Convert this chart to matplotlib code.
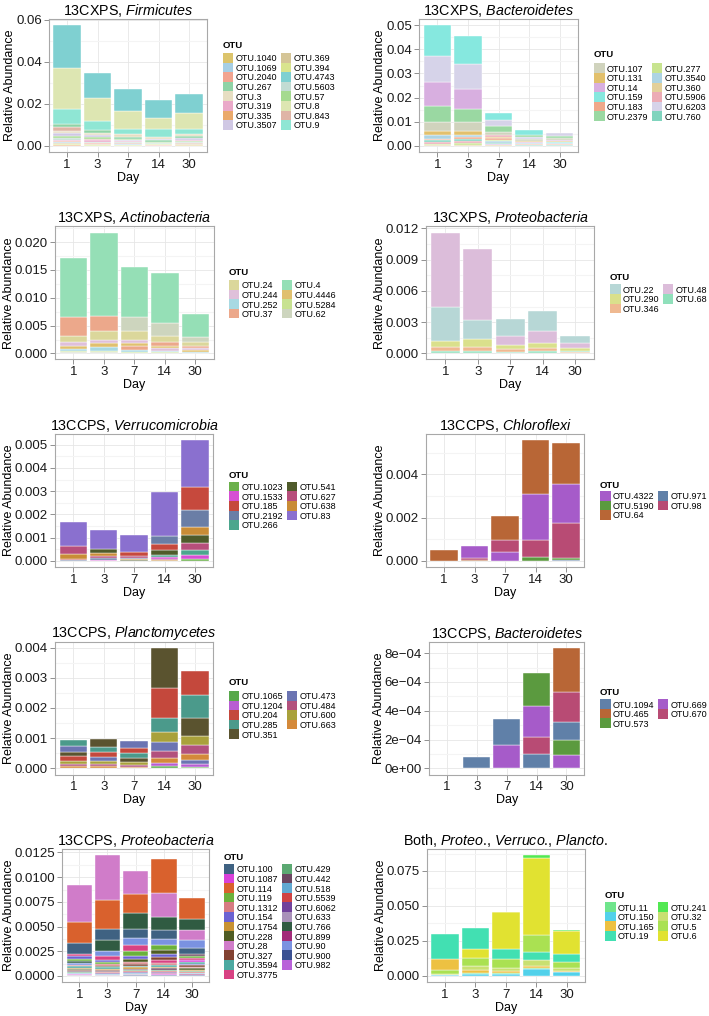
import numpy as np
import matplotlib.pyplot as plt
from matplotlib.patches import Rectangle

plt.rcParams['font.family'] = ['Liberation Sans', 'DejaVu Sans']
plt.rcParams['mathtext.fontset'] = 'custom'
plt.rcParams['mathtext.rm'] = 'Liberation Sans'
plt.rcParams['mathtext.it'] = 'Liberation Sans:italic'

days = ['1', '3', '7', '14', '30']

# ---- 13CXPS, Firmicutes
firm_otus = ['OTU.1040', 'OTU.1069', 'OTU.2040', 'OTU.267', 'OTU.3', 'OTU.319', 'OTU.335', 'OTU.3507',
             'OTU.369', 'OTU.394', 'OTU.4743', 'OTU.5603', 'OTU.57', 'OTU.8', 'OTU.843', 'OTU.9']
firm_colors = ['#dcc46c', '#a6cfe5', '#f2a490', '#8fd3a6', '#e7dec2', '#eaa9c9', '#eaa96b', '#d0c8e4',
               '#d5c597', '#d9e48e', '#7fd0d1', '#c2dcd3', '#a5da90', '#dde6b2', '#dfb5a6', '#8fe6d4']
firm_vals = {
    'OTU.4743': [0.0202, 0.0117, 0.0106, 0.0085, 0.0089],
    'OTU.8': [0.0197, 0.0111, 0.0083, 0.0053, 0.0076],
    'OTU.9': [0.0070, 0.0043, 0.0027, 0.0037, 0.0027],
    'OTU.843': [0.0016, 0.0008, 0.0004, 0.0003, 0.0004],
    'OTU.3507': [0.0012, 0.0009, 0.0006, 0.0007, 0.0008],
    'OTU.3': [0.0012, 0.0010, 0.0012, 0.0008, 0.0010],
    'OTU.267': [0.0018, 0.0012, 0.0008, 0.0006, 0.0008],
    'OTU.57': [0.0010, 0.0008, 0.0006, 0.0004, 0.0006],
    'OTU.319': [0.0008, 0.0007, 0.0005, 0.0004, 0.0006],
    'OTU.5603': [0.0008, 0.0006, 0.0004, 0.0003, 0.0004],
    'OTU.394': [0.0004, 0.0003, 0.0002, 0.0002, 0.0002],
    'OTU.369': [0.0005, 0.0003, 0.0002, 0.0001, 0.0002],
    'OTU.1069': [0.0005, 0.0003, 0.0002, 0.0001, 0.0002],
    'OTU.2040': [0.0005, 0.0003, 0.0002, 0.0001, 0.0001],
    'OTU.335': [0.0002, 0.0001, 0.0001, 0.0001, 0.0001],
    'OTU.1040': [0.0001, 0.0001, 0.0001, 0.0001, 0.0001],
}
firm_ticks = [0.0, 0.02, 0.04, 0.06]
firm_ticklabels = ['0.00', '0.02', '0.04', '0.06']

# ---- 13CXPS, Bacteroidetes
bactx_otus = ['OTU.107', 'OTU.131', 'OTU.14', 'OTU.159', 'OTU.183', 'OTU.2379',
              'OTU.277', 'OTU.3540', 'OTU.360', 'OTU.5906', 'OTU.6203', 'OTU.760']
bactx_colors = ['#d0d3bd', '#e2c06c', '#d8afe0', '#86e8df', '#f0a88a', '#9ad8a2',
                '#c8e48f', '#add4e3', '#e3d09a', '#ecabb5', '#d6d3e9', '#80d4be']
bactx_vals = {
    'OTU.159': [0.0130, 0.0115, 0.0031, 0.0023, 0.0004],
    'OTU.6203': [0.0105, 0.0101, 0.0026, 0.0008, 0.0012],
    'OTU.14': [0.0100, 0.0084, 0.0005, 0.0004, 0.0006],
    'OTU.2379': [0.0068, 0.0053, 0.0024, 0.0010, 0.0008],
    'OTU.107': [0.0035, 0.0038, 0.0010, 0.0006, 0.0006],
    'OTU.3540': [0.0015, 0.0012, 0.0006, 0.0003, 0.0003],
    'OTU.131': [0.0017, 0.0015, 0.0008, 0.0005, 0.0004],
    'OTU.760': [0.0007, 0.0008, 0.0005, 0.0002, 0.0002],
    'OTU.277': [0.0006, 0.0007, 0.0006, 0.0002, 0.0002],
    'OTU.183': [0.0007, 0.0008, 0.0006, 0.0002, 0.0002],
    'OTU.5906': [0.0006, 0.0007, 0.0008, 0.0002, 0.0002],
    'OTU.360': [0.0004, 0.0005, 0.0003, 0.0001, 0.0001],
}
bactx_ticks = [0.0, 0.01, 0.02, 0.03, 0.04, 0.05]
bactx_ticklabels = ['0.00', '0.01', '0.02', '0.03', '0.04', '0.05']

# ---- 13CXPS, Actinobacteria
actino_otus = ['OTU.24', 'OTU.244', 'OTU.252', 'OTU.37', 'OTU.4', 'OTU.4446', 'OTU.5284', 'OTU.62']
actino_colors = ['#dbd79b', '#dfc0da', '#a8d9e2', '#eca88b', '#95dfb6', '#e0c06f', '#c8e291', '#cdd5be']
actino_vals = {
    'OTU.4': [0.0106, 0.0149, 0.0091, 0.0090, 0.0040],
    'OTU.37': [0.0035, 0.0028, 0.0006, 0.0006, 0.0004],
    'OTU.62': [0.0002, 0.0002, 0.0024, 0.0023, 0.0010],
    'OTU.24': [0.0011, 0.0015, 0.0016, 0.0012, 0.0007],
    'OTU.4446': [0.0006, 0.0007, 0.0006, 0.0005, 0.0003],
    'OTU.244': [0.0006, 0.0007, 0.0006, 0.0004, 0.0003],
    'OTU.252': [0.0004, 0.0006, 0.0004, 0.0003, 0.0002],
    'OTU.5284': [0.0002, 0.0003, 0.0003, 0.0002, 0.0001],
}
actino_ticks = [0.0, 0.005, 0.010, 0.015, 0.020]
actino_ticklabels = ['0.000', '0.005', '0.010', '0.015', '0.020']

# ---- 13CXPS, Proteobacteria
proteox_otus = ['OTU.22', 'OTU.290', 'OTU.346', 'OTU.48', 'OTU.68']
proteox_colors = ['#b7d7d6', '#dae08c', '#efb991', '#dcbdda', '#90e0bb']
proteox_vals = {
    'OTU.48': [0.0071, 0.0068, 0.0009, 0.0012, 0.0005],
    'OTU.22': [0.0033, 0.0018, 0.0016, 0.0019, 0.0007],
    'OTU.290': [0.0006, 0.0008, 0.0004, 0.0005, 0.0003],
    'OTU.346': [0.0004, 0.0004, 0.0003, 0.0003, 0.0001],
    'OTU.68': [0.0002, 0.0002, 0.0001, 0.0002, 0.0001],
}
proteox_ticks = [0.0, 0.003, 0.006, 0.009, 0.012]
proteox_ticklabels = ['0.000', '0.003', '0.006', '0.009', '0.012']

# ---- 13CCPS, Verrucomicrobia
verr_otus = ['OTU.1023', 'OTU.1533', 'OTU.185', 'OTU.2192', 'OTU.266',
             'OTU.541', 'OTU.627', 'OTU.638', 'OTU.83']
verr_colors = ['#6bb04b', '#d64fd3', '#c6493d', '#6a7ea6', '#4ca68d',
               '#4f5b2b', '#b74e7b', '#c98c36', '#8a70cf']
verr_vals = {
    'OTU.83': [0.00103, 0.00085, 0.00074, 0.00189, 0.00204],
    'OTU.627': [0.00034, 0.00009, 0.00008, 0.00004, 0.00032],
    'OTU.638': [0.00022, 0.00010, 0.00005, 0.00003, 0.00037],
    'OTU.185': [0.00005, 0.00004, 0.00017, 0.00029, 0.00097],
    'OTU.2192': [0.00003, 0.00008, 0.00006, 0.00033, 0.00072],
    'OTU.541': [0.0, 0.00017, 0.00003, 0.00020, 0.00033],
    'OTU.266': [0.0, 0.0, 0.0, 0.00010, 0.00020],
    'OTU.1533': [0.0, 0.00002, 0.0, 0.00008, 0.00015],
    'OTU.1023': [0.0, 0.0, 0.0, 0.0, 0.00010],
}
verr_ticks = [0.0, 0.001, 0.002, 0.003, 0.004, 0.005]
verr_ticklabels = ['0.000', '0.001', '0.002', '0.003', '0.004', '0.005']

# ---- 13CCPS, Chloroflexi
chlor_otus = ['OTU.4322', 'OTU.5190', 'OTU.64', 'OTU.971', 'OTU.98']
chlor_colors = ['#a65bc9', '#5b9a3f', '#b86636', '#6080a8', '#b84b74']
chlor_vals = {
    'OTU.64': [0.00049, 0.00004, 0.00111, 0.00248, 0.00190],
    'OTU.4322': [0.0, 0.00055, 0.00043, 0.00212, 0.00180],
    'OTU.98': [0.0, 0.00010, 0.00052, 0.00078, 0.00160],
    'OTU.5190': [0.0, 0.0, 0.0, 0.00020, 0.00010],
    'OTU.971': [0.0, 0.0, 0.0, 0.0, 0.00005],
}
chlor_ticks = [0.0, 0.002, 0.004]
chlor_ticklabels = ['0.000', '0.002', '0.004']

# ---- 13CCPS, Planctomycetes
planc_otus = ['OTU.1065', 'OTU.1204', 'OTU.204', 'OTU.285', 'OTU.351',
              'OTU.473', 'OTU.484', 'OTU.600', 'OTU.663']
planc_colors = ['#58a84b', '#b85dd2', '#c4483c', '#4b9a8b', '#5a532f',
                '#6b74b2', '#b2517d', '#a9a13b', '#d4893a']
planc_vals = {
    'OTU.351': [0.00016, 0.00025, 0.00012, 0.00133, 0.00057],
    'OTU.204': [0.00014, 0.00015, 0.00018, 0.00101, 0.00081],
    'OTU.285': [0.00020, 0.00018, 0.00015, 0.00045, 0.00076],
    'OTU.600': [0.00010, 0.00010, 0.00010, 0.00035, 0.00031],
    'OTU.473': [0.00018, 0.00013, 0.00022, 0.00028, 0.00014],
    'OTU.484': [0.00008, 0.00008, 0.00007, 0.00022, 0.00029],
    'OTU.663': [0.00005, 0.00005, 0.00004, 0.00018, 0.00020],
    'OTU.1204': [0.0, 0.00003, 0.0, 0.00010, 0.00010],
    'OTU.1065': [0.00003, 0.0, 0.00002, 0.00008, 0.00005],
}
planc_ticks = [0.0, 0.001, 0.002, 0.003, 0.004]
planc_ticklabels = ['0.000', '0.001', '0.002', '0.003', '0.004']

# ---- 13CCPS, Bacteroidetes
bactc_otus = ['OTU.1094', 'OTU.465', 'OTU.573', 'OTU.669', 'OTU.670']
bactc_colors = ['#6080a8', '#b86636', '#5b9a3f', '#a65bc9', '#b84b74']
bactc_vals = {
    'OTU.1094': [0.0, 0.000079, 0.00018, 0.00010, 0.00012],
    'OTU.465': [0.0, 0.0, 0.0, 0.0, 0.000309],
    'OTU.573': [0.0, 0.0, 0.0, 0.000232, 0.00011],
    'OTU.669': [0.0, 0.0, 0.00016, 0.00021, 0.00009],
    'OTU.670': [0.0, 0.0, 0.0, 0.00012, 0.00021],
}
bactc_ticks = [0.0, 0.0002, 0.0004, 0.0006, 0.0008]
bactc_ticklabels = ['0e+00', '2e\u221204', '4e\u221204', '6e\u221204', '8e\u221204']

# ---- 13CCPS, Proteobacteria
proteoc_otus = ['OTU.100', 'OTU.1087', 'OTU.114', 'OTU.119', 'OTU.1312', 'OTU.154', 'OTU.1754',
                'OTU.228', 'OTU.28', 'OTU.327', 'OTU.3594', 'OTU.3775',
                'OTU.429', 'OTU.442', 'OTU.518', 'OTU.5539', 'OTU.6062', 'OTU.633',
                'OTU.766', 'OTU.899', 'OTU.90', 'OTU.900', 'OTU.982']
proteoc_colors = ['#3f6282', '#d940d9', '#d9612d', '#6bb13b', '#d77b82', '#6b62d2', '#c89232',
                  '#4f5c23', '#d07cc9', '#824232', '#4ca9a1', '#d84283',
                  '#5ba972', '#6b4661', '#60a9d2', '#d14343', '#71419b', '#a991b9',
                  '#305b42', '#a22b79', '#7a92e1', '#3b5192', '#b962d9']
proteoc_vals = {
    'OTU.28': [0.0038, 0.0046, 0.0023, 0.0025, 0.00095],
    'OTU.114': [0.0021, 0.0029, 0.0020, 0.00344, 0.00217],
    'OTU.100': [0.0011, 0.00112, 0.00085, 0.0009, 0.0006],
    'OTU.766': [0.0002, 0.00108, 0.0016, 0.0013, 0.0011],
    'OTU.90': [0.00018, 0.0005, 0.0008, 0.0006, 0.0009],
    'OTU.3775': [0.00028, 0.00045, 0.0006, 0.00025, 0.0002],
    'OTU.154': [0.00024, 0.00022, 0.00028, 0.00035, 0.00016],
    'OTU.119': [0.00022, 0.0002, 0.0005, 0.0005, 0.0002],
    'OTU.1312': [0.00016, 0.00016, 0.00022, 0.0002, 0.00015],
    'OTU.3594': [0.00014, 0.00013, 0.00018, 0.00018, 0.00017],
    'OTU.1754': [0.00013, 0.00012, 0.00015, 0.00016, 0.00012],
    'OTU.228': [0.00012, 0.00014, 0.00025, 0.0004, 0.00013],
    'OTU.327': [0.0001, 0.0001, 0.0002, 0.0003, 0.00015],
    'OTU.442': [0.00009, 0.00009, 0.00013, 0.00014, 0.0002],
    'OTU.429': [0.00007, 0.00008, 0.00011, 0.00012, 0.0001],
    'OTU.5539': [0.00006, 0.00007, 0.00009, 0.0001, 0.00009],
    'OTU.6062': [0.00005, 0.00006, 0.00008, 0.00009, 0.00008],
    'OTU.518': [0.00005, 0.00005, 0.00007, 0.00008, 0.00007],
    'OTU.899': [0.00004, 0.00005, 0.00006, 0.00007, 0.00006],
    'OTU.1087': [0.00004, 0.00004, 0.00005, 0.00006, 0.00018],
    'OTU.633': [0.00003, 0.00003, 0.00005, 0.00005, 0.00005],
    'OTU.900': [0.00003, 0.00003, 0.00004, 0.00004, 0.00004],
    'OTU.982': [0.00002, 0.00002, 0.00003, 0.00003, 0.00003],
}
proteoc_ticks = [0.0, 0.0025, 0.005, 0.0075, 0.010, 0.0125]
proteoc_ticklabels = ['0.0000', '0.0025', '0.0050', '0.0075', '0.0100', '0.0125']

# ---- Both, Proteo./Verruco./Plancto.
both_otus = ['OTU.11', 'OTU.150', 'OTU.165', 'OTU.19', 'OTU.241', 'OTU.32', 'OTU.5', 'OTU.6']
both_colors = ['#6fe58c', '#52d1ea', '#edc142', '#42e0b2', '#52e852', '#c9e071', '#aae152', '#e1e231']
both_vals = {
    'OTU.6': [0.0, 0.0067, 0.026, 0.0555, 0.0165],
    'OTU.19': [0.0181, 0.0152, 0.0073, 0.0054, 0.0057],
    'OTU.5': [0.0029, 0.0055, 0.0062, 0.0122, 0.0038],
    'OTU.32': [0.0009, 0.0030, 0.0025, 0.0041, 0.0025],
    'OTU.165': [0.0076, 0.0017, 0.0014, 0.0018, 0.0005],
    'OTU.150': [0.0005, 0.0015, 0.0015, 0.0048, 0.0030],
    'OTU.11': [0.0, 0.0009, 0.0005, 0.0007, 0.0],
    'OTU.241': [0.0, 0.0, 0.0006, 0.0019, 0.0006],
}
both_ticks = [0.0, 0.025, 0.050, 0.075]
both_ticklabels = ['0.000', '0.025', '0.050', '0.075']

# ---------------------------------------------------------------------------
W, H = 709, 1016
fig = plt.figure(figsize=(W / 100, H / 100), dpi=100)
renderer = fig.canvas.get_renderer()

ROW_TOP = [19, 226.5, 434, 641.5, 849]
ROW_H = 133


def draw_legend(x, title_y, top, otus, colors):
    fig.text(x / W, 1 - title_y / H, 'OTU', fontsize=6.8, fontweight='bold',
             ha='left', va='center_baseline')
    nrow = (len(otus) + 1) // 2
    sw, rh = 10.5, 9.6
    colx = x
    for c0 in range(0, len(otus), nrow):
        widths = []
        for r, (o, c) in enumerate(zip(otus[c0:c0 + nrow], colors[c0:c0 + nrow])):
            yt = top + r * rh
            fig.add_artist(Rectangle((colx / W, 1 - (yt + rh) / H), sw / W, rh / H,
                                     transform=fig.transFigure, facecolor=c, edgecolor='none'))
            t = fig.text((colx + sw + 2.5) / W, 1 - (yt + rh / 2) / H, o, fontsize=6.5,
                         ha='left', va='center_baseline')
            widths.append(t.get_window_extent(renderer).width)
        colx += sw + 2.5 + max(widths) + 3


def draw_panel(x0, x1, row, title, otus, colors, vals, ticks, ticklabels, leg,
               pin_bottom=(), pin_top=()):
    y0 = ROW_TOP[row]
    y1 = y0 + ROW_H
    ax = fig.add_axes([x0 / W, 1 - y1 / H, (x1 - x0) / W, (y1 - y0) / H])
    colmap = dict(zip(otus, colors))
    totals = []
    for i in range(len(days)):
        order = sorted(vals, key=lambda o: vals[o][i])
        order = list(pin_bottom) + [o for o in order if o not in pin_bottom and o not in pin_top] + list(pin_top)
        base = 0.0
        for o in order:
            v = vals[o][i]
            if v > 0:
                ax.bar(i, v, width=0.9, bottom=base, color=colmap[o],
                       edgecolor='white', linewidth=0.3, zorder=3)
            base += v
        totals.append(base)
    top = max(totals)
    ax.set_ylim(-0.05 * top, 1.05 * top)
    ax.set_xlim(-0.6, len(days) - 0.4)
    ax.set_xticks(range(len(days)))
    ax.set_xticklabels(days)
    ax.set_yticks(ticks)
    ax.set_yticklabels(ticklabels)
    step = ticks[1] - ticks[0]
    minor = np.arange(ticks[0] + step / 2, 1.05 * top, step)
    ax.set_yticks(minor, minor=True)
    ax.grid(which='major', color='#e6e6e6', linewidth=0.6, zorder=0)
    ax.grid(which='minor', axis='y', color='#f4f4f4', linewidth=0.8, zorder=0)
    ax.set_axisbelow(True)
    ax.tick_params(which='major', direction='out', length=3.5, width=0.6, color='#7f7f7f',
                   labelsize=9.5, pad=1.5, labelcolor='#1a1a1a')
    ax.tick_params(which='minor', length=0)
    for s in ax.spines.values():
        s.set_color('#a8a8a8')
        s.set_linewidth(0.8)
    ax.set_title(title, fontsize=10.3, pad=0.8)
    ax.set_xlabel('Day', fontsize=9, labelpad=0.5)
    ax.set_ylabel('Relative Abundance', fontsize=9, labelpad=0)
    draw_legend(*leg, otus, colors)
    return ax


draw_panel(48.7, 207.3, 0, r'13CXPS, $\mathit{Firmicutes}$', firm_otus, firm_colors, firm_vals,
           firm_ticks, firm_ticklabels, (223, 45, 53))
draw_panel(419, 578, 0, r'13CXPS, $\mathit{Bacteroidetes}$', bactx_otus, bactx_colors, bactx_vals,
           bactx_ticks, bactx_ticklabels, (594, 53.3, 63.3))
draw_panel(55, 213.6, 1, r'13CXPS, $\mathit{Actinobacteria}$', actino_otus, actino_colors, actino_vals,
           actino_ticks, actino_ticklabels, (229, 271.7, 280))
draw_panel(426, 594.5, 1, r'13CXPS, $\mathit{Proteobacteria}$', proteox_otus, proteox_colors, proteox_vals,
           proteox_ticks, proteox_ticklabels, (610, 276, 284.3))
draw_panel(55, 213.3, 2, r'13CCPS, $\mathit{Verrucomicrobia}$', verr_otus, verr_colors, verr_vals,
           verr_ticks, verr_ticklabels, (229, 474.3, 481.7))
draw_panel(425.7, 584.3, 2, r'13CCPS, $\mathit{Chloroflexi}$', chlor_otus, chlor_colors, chlor_vals,
           chlor_ticks, chlor_ticklabels, (600, 484, 491))
draw_panel(55, 213.3, 3, r'13CCPS, $\mathit{Planctomycetes}$', planc_otus, planc_colors, planc_vals,
           planc_ticks, planc_ticklabels, (229, 681.7, 691))
draw_panel(429, 584.3, 3, r'13CCPS, $\mathit{Bacteroidetes}$', bactc_otus, bactc_colors, bactc_vals,
           bactc_ticks, bactc_ticklabels, (600, 691.7, 699.3))
draw_panel(62.3, 209, 4, r'13CCPS, $\mathit{Proteobacteria}$', proteoc_otus, proteoc_colors, proteoc_vals,
           proteoc_ticks, proteoc_ticklabels, (224, 856, 864))
draw_panel(426.7, 585, 4, r'Both, $\mathit{Proteo}$., $\mathit{Verruco}$., $\mathit{Plancto}$.',
           both_otus, both_colors, both_vals, both_ticks, both_ticklabels, (605, 894, 902.3),
           pin_bottom=('OTU.150',), pin_top=('OTU.241',))

fig.savefig('out.png', dpi=100)
